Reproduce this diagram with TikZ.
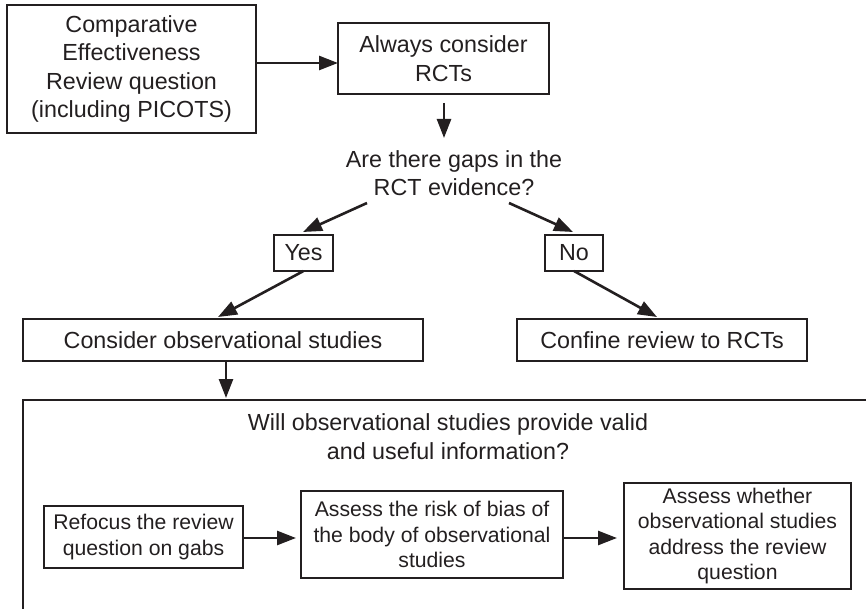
\documentclass[tikz,border=0pt]{standalone}
\usepackage{fontspec}
\setmainfont{Liberation Sans}
\usetikzlibrary{arrows.meta}
\definecolor{ink}{HTML}{231F20}

\begin{document}
\begin{tikzpicture}[x=1pt,y=-1pt,
  every node/.style={text=ink, inner sep=0pt, outer sep=0pt},
  bigtext/.style={font=\fontsize{23.3}{28.5}\selectfont, align=center},
  smalltext/.style={font=\fontsize{21.2}{25.5}\selectfont, align=center},
  framed/.style={draw=ink, line width=1.3pt},
  flow/.style={draw=ink, line width=2.6pt, -{Triangle[length=19pt,width=14pt]}}
]
\useasboundingbox (0,0) rectangle (866,609);
\clip (0,0) rectangle (866,609);

% upper part of the flow
\node[framed, bigtext, minimum width=249pt, minimum height=128pt] (crq) at (131.5,69)
  {Comparative\\Effectiveness\\Review question\\(including PICOTS)};
\node[framed, bigtext, minimum width=211pt, minimum height=71pt] (rct) at (443.5,58.5)
  {Always consider\\RCTs};
\node[bigtext] (gaps) at (454,173) {Are there gaps in the\\RCT evidence?};
\node[framed, bigtext, minimum width=59pt, minimum height=36pt] (yes) at (303.5,253) {Yes};
\node[framed, bigtext, minimum width=58pt, minimum height=36pt] (no) at (574,253) {No};
\node[framed, bigtext, minimum width=400pt, minimum height=42pt] (obs) at (223,340)
  {Consider observational studies};
\node[framed, bigtext, minimum width=290pt, minimum height=42pt] (conf) at (662,340)
  {Confine review to RCTs};

% lower panel, open towards the right and bottom edges
\node[framed, anchor=north west, minimum width=880pt, minimum height=240pt] (panel) at (23,400) {};
\node[bigtext] (valid) at (448,436.5)
  {Will observational studies provide valid\\and useful information?};
\node[framed, smalltext, minimum width=199pt, minimum height=62pt] (refocus) at (143.5,537)
  {Refocus the review\\question on gabs};
\node[framed, smalltext, minimum width=262pt, minimum height=87pt] (bias) at (432,534.5)
  {Assess the risk of bias of\\the body of observational\\studies};
\node[framed, smalltext, minimum width=227pt, minimum height=106pt] (whether) at (737.5,536)
  {Assess whether\\observational studies\\address the review\\question};

% loose ends of the connectors
\coordinate (crqOut) at (256,63);
\coordinate (rctIn) at (338,63);
\coordinate (rctOut) at (444,103);
\coordinate (gapsIn) at (444,138);
\coordinate (gapsL) at (367,203);
\coordinate (gapsR) at (509,203);
\coordinate (yesIn) at (303,232);
\coordinate (noIn) at (573,232);
\coordinate (obsIn) at (218,317);
\coordinate (confIn) at (657,317);
\coordinate (obsOut) at (226,361);
\coordinate (panelIn) at (226,398);
\coordinate (refOut) at (243,538);
\coordinate (biasIn) at (296,538);
\coordinate (biasOut) at (563,538);
\coordinate (whetherIn) at (617,538);

% connectors
\draw[flow] (crqOut) -- (rctIn);
\draw[flow] (rctOut) -- (gapsIn);
\draw[flow] (gapsL) -- (yesIn);
\draw[flow] (gapsR) -- (noIn);
\draw[flow] (yes.south) -- (obsIn);
\draw[flow] (no.south) -- (confIn);
\draw[flow] (obsOut) -- (panelIn);
\draw[flow] (refOut) -- (biasIn);
\draw[flow] (biasOut) -- (whetherIn);
\end{tikzpicture}
\end{document}
